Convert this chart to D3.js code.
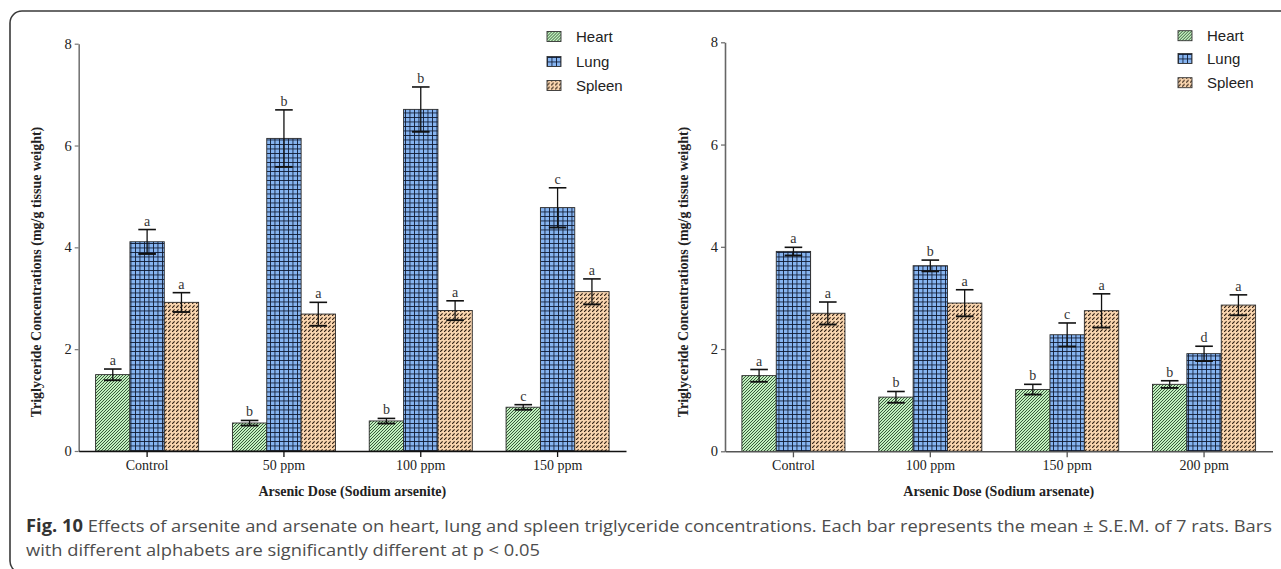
<!DOCTYPE html>
<html><head><meta charset="utf-8">
<script src="https://cdn.jsdelivr.net/npm/d3@7/dist/d3.min.js"></script>
<style>body{margin:0;background:#fff}svg{display:block}</style>
</head><body>
<svg id="c" width="1281" height="569"></svg>
<script>
// ---------- DATA ----------
const seriesNames = ["Heart", "Lung", "Spleen"];
const yTicks = [0, 2, 4, 6, 8];

// Left panel: Sodium arsenite
const categoriesArsenite = ["Control", "50 ppm", "100 ppm", "150 ppm"];
const heartArsenite   = [1.50, 0.55, 0.59, 0.86];
const heartSemArsenite = [0.11, 0.05, 0.05, 0.05];
const lungArsenite    = [4.11, 6.14, 6.71, 4.78];
const lungSemArsenite  = [0.24, 0.56, 0.44, 0.39];
const spleenArsenite  = [2.92, 2.69, 2.76, 3.13];
const spleenSemArsenite = [0.19, 0.23, 0.19, 0.25];
const heartLettersArsenite  = ["a", "b", "b", "c"];
const lungLettersArsenite   = ["a", "b", "b", "c"];
const spleenLettersArsenite = ["a", "a", "a", "a"];

// Right panel: Sodium arsenate
const categoriesArsenate = ["Control", "100 ppm", "150 ppm", "200 ppm"];
const heartArsenate   = [1.48, 1.06, 1.21, 1.31];
const heartSemArsenate = [0.12, 0.11, 0.10, 0.07];
const lungArsenate    = [3.91, 3.63, 2.28, 1.91];
const lungSemArsenate  = [0.08, 0.11, 0.23, 0.145];
const spleenArsenate  = [2.70, 2.90, 2.75, 2.86];
const spleenSemArsenate = [0.22, 0.26, 0.33, 0.20];
const heartLettersArsenate  = ["a", "b", "b", "b"];
const lungLettersArsenate   = ["a", "b", "c", "d"];
const spleenLettersArsenate = ["a", "a", "a", "a"];

const yTitle = "Triglyceride Concentrations (mg/g tissue weight)";
const xTitleArsenite = "Arsenic Dose (Sodium arsenite)";
const xTitleArsenate = "Arsenic Dose (Sodium arsenate)";
const captionBold = "Fig. 10";
const captionLine1 = " Effects of arsenite and arsenate on heart, lung and spleen triglyceride concentrations. Each bar represents the mean \u00B1 S.E.M. of 7 rats. Bars";
const captionLine2 = "with different alphabets are significantly different at p < 0.05";

// ---------- DRAWING ----------
const svg = d3.select("#c");
svg.append("rect").attr("width", 1281).attr("height", 569).attr("fill", "#fff");
const defs = svg.append("defs");

function makePattern(id, w, h, bg, d, stroke, sw) {
  const p = defs.append("pattern").attr("id", id)
    .attr("patternUnits", "userSpaceOnUse").attr("width", w).attr("height", h);
  p.append("rect").attr("width", w).attr("height", h).attr("fill", bg);
  p.append("path").attr("d", d).attr("stroke", stroke).attr("stroke-width", sw)
    .attr("fill", "none");
}
makePattern("pHeart", 3, 3, "#c2f0bf",
  "M-0.75,0.75 L0.75,-0.75 M0,3 L3,0 M2.25,3.75 L3.75,2.25", "#1f3d22", 0.85);
makePattern("pLung", 4.5, 4.5, "#86b4f0", "M0,0.4 H4.5 M0.4,0 V4.5", "#0e1830", 0.9);
makePattern("pSpleen", 4, 4, "#f8d4ae", "M-0.3,4.3 L2.6,1.4", "#2b1b10", 1.1);
const fills = { Heart: "url(#pHeart)", Lung: "url(#pLung)", Spleen: "url(#pSpleen)" };

// Frame
svg.append("rect").attr("x", 10).attr("y", 11).attr("width", 1300).attr("height", 562)
  .attr("rx", 12).attr("ry", 12).attr("fill", "none").attr("stroke", "#3a3a3a").attr("stroke-width", 1.6);

function drawChart(cfg) {
  const g = svg.append("g");
  const x0 = d3.scaleBand().domain(cfg.categories).range([cfg.left, cfg.right])
    .paddingInner(0.247).paddingOuter(0.1235);
  const x1 = d3.scaleBand().domain(seriesNames).range([0, x0.bandwidth()]);
  const y = d3.scaleLinear().domain([0, 8]).range([cfg.bottom, cfg.top]);

  const rows = [];
  cfg.categories.forEach((c, i) => {
    seriesNames.forEach((s, k) => {
      rows.push({ cat: c, series: s, v: cfg.values[k][i], sem: cfg.sems[k][i], letter: cfg.letters[k][i] });
    });
  });

  // bars
  g.selectAll("rect.bar").data(rows).join("rect").attr("class", "bar")
    .attr("x", d => x0(d.cat) + x1(d.series))
    .attr("width", x1.bandwidth())
    .attr("y", d => y(d.v))
    .attr("height", d => y(0) - y(d.v))
    .attr("fill", d => fills[d.series])
    .attr("stroke", "#2a2a2a").attr("stroke-width", 0.9);

  // error bars
  const cap = 8.8;
  const eb = g.selectAll("g.eb").data(rows).join("g").attr("class", "eb")
    .attr("transform", d => `translate(${x0(d.cat) + x1(d.series) + x1.bandwidth() / 2},0)`);
  eb.append("line").attr("x1", 0).attr("x2", 0)
    .attr("y1", d => y(d.v - d.sem)).attr("y2", d => y(d.v + d.sem))
    .attr("stroke", "#111").attr("stroke-width", 1.3);
  eb.append("line").attr("x1", -cap).attr("x2", cap)
    .attr("y1", d => y(d.v + d.sem)).attr("y2", d => y(d.v + d.sem))
    .attr("stroke", "#111").attr("stroke-width", 1.6);
  eb.append("line").attr("x1", -cap).attr("x2", cap)
    .attr("y1", d => y(d.v - d.sem)).attr("y2", d => y(d.v - d.sem))
    .attr("stroke", "#111").attr("stroke-width", 1.9);
  eb.append("text").attr("x", 0).attr("y", d => y(d.v + d.sem) - 4)
    .attr("text-anchor", "middle").attr("font-family", "Liberation Serif")
    .attr("font-size", 14).attr("fill", "#333").text(d => d.letter);

  // axes
  const yAx = g.append("g").attr("transform", `translate(${cfg.left},0)`)
    .call(d3.axisLeft(y).tickValues(yTicks).tickSize(4).tickSizeOuter(0).tickPadding(3));
  yAx.select(".domain").attr("stroke", cfg.yAxisColor).attr("stroke-width", 1.6);
  yAx.selectAll(".tick line").attr("stroke", cfg.yAxisColor).attr("stroke-width", 1.2);
  yAx.selectAll(".tick text").attr("font-family", "Liberation Serif").attr("font-size", 14.5).attr("fill", "#222");

  const xAx = g.append("g").attr("transform", `translate(0,${cfg.bottom})`)
    .call(d3.axisBottom(x0).tickSize(6).tickSizeOuter(0).tickPadding(3));
  xAx.select(".domain").attr("stroke", cfg.xAxisColor).attr("stroke-width", 1.6);
  xAx.selectAll(".tick line").attr("stroke", cfg.xAxisColor).attr("stroke-width", 1.3);
  xAx.selectAll(".tick text").attr("font-family", "Liberation Serif").attr("font-size", 14).attr("fill", "#222");

  // titles
  g.append("text").attr("transform", `translate(${cfg.yTitleX},272) rotate(-90)`)
    .attr("text-anchor", "middle").attr("font-family", "Liberation Serif").attr("font-weight", "bold")
    .attr("font-size", 14).attr("fill", "#222").text(yTitle);
  g.append("text").attr("x", (cfg.left + cfg.right) / 2).attr("y", 496)
    .attr("text-anchor", "middle").attr("font-family", "Liberation Serif").attr("font-weight", "bold")
    .attr("font-size", 14).attr("fill", "#222").text(cfg.xTitle);

  // legend
  const lg = g.selectAll("g.lg").data(seriesNames).join("g").attr("class", "lg")
    .attr("transform", (d, i) => `translate(${cfg.legendX},${cfg.legendY[i]})`);
  lg.append("rect").attr("x", 0).attr("y", -5).attr("width", 14).attr("height", 10)
    .attr("fill", d => fills[d]).attr("stroke", "#333").attr("stroke-width", 0.9);
  lg.append("text").attr("x", 29).attr("y", 5.5).attr("font-family", "Liberation Sans")
    .attr("font-size", 15).attr("fill", "#222").text(d => d);
}

drawChart({
  categories: categoriesArsenite,
  values: [heartArsenite, lungArsenite, spleenArsenite],
  sems: [heartSemArsenite, lungSemArsenite, spleenSemArsenite],
  letters: [heartLettersArsenite, lungLettersArsenite, spleenLettersArsenite],
  left: 78.7, right: 626, top: 43.7, bottom: 451,
  yAxisColor: "#777", xAxisColor: "#111",
  yTitleX: 41, xTitle: xTitleArsenite,
  legendX: 547, legendY: [36.5, 61.5, 85.5]
});
drawChart({
  categories: categoriesArsenate,
  values: [heartArsenate, lungArsenate, spleenArsenate],
  sems: [heartSemArsenate, lungSemArsenate, spleenSemArsenate],
  letters: [heartLettersArsenate, lungLettersArsenate, spleenLettersArsenate],
  left: 725, right: 1272.5, top: 42.3, bottom: 451.3,
  yAxisColor: "#666", xAxisColor: "#555",
  yTitleX: 688, xTitle: xTitleArsenate,
  legendX: 1178, legendY: [35.7, 58.5, 82.7]
});

// caption
const cap1 = svg.append("text").attr("x", 26).attr("y", 531.5)
  .attr("font-family", "Open Sans").attr("font-size", 17).attr("fill", "#4d4d4d")
  .attr("textLength", 1246).attr("lengthAdjust", "spacingAndGlyphs");
cap1.append("tspan").attr("font-weight", "bold").attr("fill", "#333").text(captionBold);
cap1.append("tspan").text(captionLine1);
svg.append("text").attr("x", 26).attr("y", 555.5)
  .attr("font-family", "Open Sans").attr("font-size", 17).attr("fill", "#4d4d4d")
  .attr("textLength", 514).attr("lengthAdjust", "spacingAndGlyphs").text(captionLine2);
</script>
</body></html>
